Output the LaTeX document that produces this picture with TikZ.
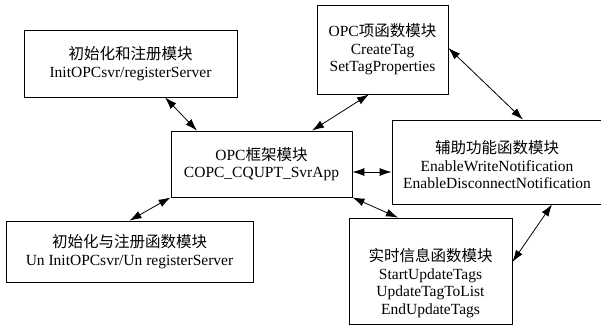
\documentclass[tikz,border=0pt]{standalone}
\usepackage{fontspec}
\setmainfont{Liberation Serif}
\newfontfamily\cjk{Noto Sans CJK SC}
\usetikzlibrary{arrows.meta}
\newcommand\fsz{\fontsize{15.5pt}{17.5pt}\selectfont}
\begin{document}
\begin{tikzpicture}[x=1pt,y=-1pt,
  box/.style={draw, line width=0.8pt, inner sep=0pt, align=center, font=\fsz},
  txt/.style={inner sep=0pt, align=center, font=\fsz},
  arr/.style={{Latex[length=12pt,width=8pt]}-{Latex[length=12pt,width=8pt]}, line width=0.8pt}]
\clip (0,0) rectangle (601,327);
\fill[white] (0,0) rectangle (601,327);
\node[box, minimum width=213pt, minimum height=67pt] (init) at (130.5,63.5)
  {{\cjk 初始化和注册模块}\\InitOPCsvr/registerServer};
\node[box, minimum width=181pt, minimum height=66pt] (frame) at (261.5,164)
  {OPC{\cjk 框架模块}\\COPC\_CQUPT\_SvrApp};
\node[box, minimum width=247pt, minimum height=61pt] (bl) at (129.5,251.5)
  {{\cjk 初始化与注册函数模块}\\Un InitOPCsvr/Un registerServer};
\node[box, minimum width=131pt, minimum height=89pt] (item) at (382.5,49.5)
  {OPC{\cjk 项函数模块}\\CreateTag\\SetTagProperties};
\node[box, minimum width=210pt, minimum height=84pt] (aux) at (497,162) {};
\node[txt] (auxt) at ([yshift=-3pt]aux.center)
  {{\cjk 辅助功能函数模块}\\EnableWriteNotification\\EnableDisconnectNotification};
\node[box, minimum width=163pt, minimum height=106pt] (rt) at (430.5,271) {};
\node[txt] (rtt) at ([yshift=-12pt]rt.center)
  {{\cjk 实时信息函数模块}\\StartUpdateTags\\UpdateTagToList\\EndUpdateTags};
\draw[arr] ([xshift=34.5pt]init.south) -- ([xshift=-64.5pt]frame.north);
\draw[arr] (frame.south west) -- (bl.north);
\draw[arr] ([xshift=50.5pt]frame.north) -- ([xshift=-13.5pt]item.south);
\draw[arr] ([yshift=1.5pt]item.east) -- ([xshift=26pt]aux.north);
\coordinate (h) at ([yshift=-8pt]frame.east);
\draw[arr] (h) -- (h -| aux.west);
\draw[arr] (frame.south east) -- ([xshift=-32.5pt]rt.north);
\draw[arr] ([xshift=55pt]aux.south) -- ([yshift=9pt]rt.east);
\end{tikzpicture}
\end{document}
